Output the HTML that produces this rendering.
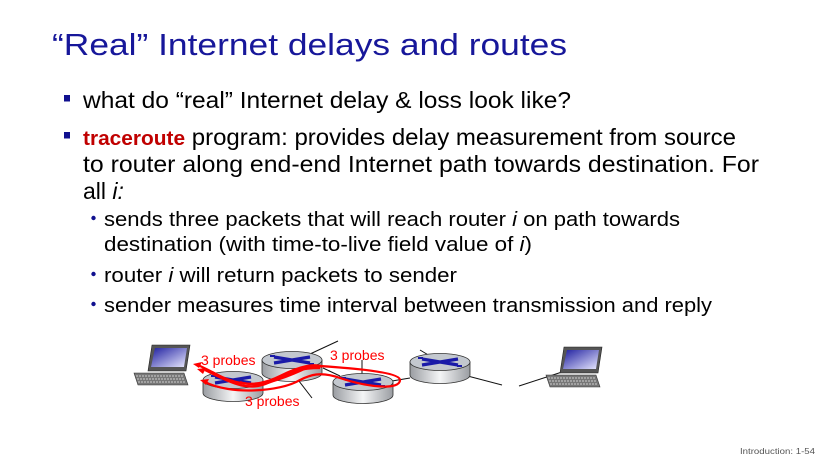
<!DOCTYPE html>
<html><head><meta charset="utf-8"><style>
html,body{margin:0;padding:0;background:#fff;}
svg{display:block;}
</style></head><body>
<svg width="830" height="465" viewBox="0 0 830 465" xmlns="http://www.w3.org/2000/svg" font-family="'Liberation Sans', sans-serif">
<defs>
<linearGradient id="scr" x1="0" y1="0" x2="1" y2="1"><stop offset="0" stop-color="#2020a0"/><stop offset="1" stop-color="#e8e8ff"/></linearGradient>
<linearGradient id="body" x1="0" y1="0" x2="1" y2="0"><stop offset="0" stop-color="#9a9da2"/><stop offset="0.5" stop-color="#f4f5f6"/><stop offset="1" stop-color="#9a9da2"/></linearGradient>
<g id="rt">
<path d="M-30,0 L-30,13 A30,8.5 0 0 0 30,13 L30,0 Z" fill="url(#body)" stroke="#333" stroke-width="0.8"/>
<ellipse cx="0" cy="0" rx="30" ry="8.5" fill="#c3c8cf" stroke="#333" stroke-width="0.8"/>
<path d="M-18,-3 L18,3 M-18,3 L18,-3" stroke="#1a1aa8" stroke-width="3.2"/>
<path d="M-22,-4 l5,0 M22,4 l-5,0" stroke="#1a1aa8" stroke-width="2"/>
</g>
<g id="lp">
<path d="M4,0 L42,0 L38,26 L0,26 Z" fill="#555" stroke="#222" stroke-width="0.6"/>
<path d="M7,3 L39,3 L36,22 L3,22 Z" fill="url(#scr)"/>
<path d="M-14,28 L36,28 L40,40 L-10,40 Z" fill="#777" stroke="#333" stroke-width="0.6"/>
<path d="M-12,31 L36,31 M-11,34 L37,34 M-10,37 L38,37" stroke="#ccc" stroke-width="1" stroke-dasharray="2 1"/>
</g>
</defs>
<text x="52" y="55" font-size="31" fill="#17179a" textLength="515" lengthAdjust="spacingAndGlyphs">“Real” Internet delays and routes</text>
<rect x="64" y="95" width="6" height="6.5" fill="#10108f"/>
<rect x="64" y="132" width="6" height="6.5" fill="#10108f"/>
<text x="83" y="108" font-size="23" fill="#000" textLength="488" lengthAdjust="spacingAndGlyphs">what do “real” Internet delay &amp; loss look like?</text>
<text x="83" y="145" font-size="23" fill="#000" textLength="653" lengthAdjust="spacingAndGlyphs"><tspan fill="#c00000" font-weight="bold" font-size="20">traceroute</tspan> program: provides delay measurement from source</text>
<text x="83" y="172" font-size="23" fill="#000" textLength="676" lengthAdjust="spacingAndGlyphs">to router along end-end Internet path towards destination.  For</text>
<text x="83" y="199" font-size="23" fill="#000">all <tspan font-style="italic">i:</tspan></text>
<g fill="#10108f"><circle cx="93.5" cy="218" r="2.2"/><circle cx="93.5" cy="274" r="2.2"/><circle cx="93.5" cy="304" r="2.2"/></g>
<g font-size="20" fill="#000">
<text x="104" y="226" textLength="576" lengthAdjust="spacingAndGlyphs">sends three packets that will reach router <tspan font-style="italic">i</tspan> on path towards</text>
<text x="104" y="251" textLength="428" lengthAdjust="spacingAndGlyphs">destination (with time-to-live field value of <tspan font-style="italic">i</tspan>)</text>
<text x="104" y="282" textLength="353" lengthAdjust="spacingAndGlyphs">router <tspan font-style="italic">i</tspan> will return packets to sender</text>
<text x="104" y="312" textLength="608" lengthAdjust="spacingAndGlyphs">sender measures time interval between transmission and reply</text>
</g>
<text x="740" y="454" font-size="8.5" fill="#555" textLength="75" lengthAdjust="spacingAndGlyphs">Introduction: 1-54</text>
<!-- links -->
<g stroke="#111" stroke-width="1">
<line x1="310" y1="354" x2="338" y2="341"/>
<line x1="292" y1="372" x2="312" y2="398"/>
<line x1="362" y1="374" x2="362" y2="360"/>
<line x1="323" y1="368" x2="340" y2="376"/>
<line x1="392" y1="381" x2="410" y2="378"/>
<line x1="420" y1="350" x2="430" y2="356"/>
<line x1="460" y1="374" x2="502" y2="385"/>
<line x1="519" y1="386" x2="562" y2="372"/>
<line x1="338" y1="400" x2="348" y2="398"/>
</g>
<use href="#lp" x="148" y="345"/>
<use href="#lp" x="560" y="347"/>
<use href="#rt" x="292" y="360"/>
<use href="#rt" x="440" y="362"/>
<use href="#rt" x="233" y="380"/>
<use href="#rt" x="363" y="382"/>
<!-- red probes -->
<g fill="none" stroke="#f00" stroke-width="2.2">
<path d="M198,365 C230,380 240,390 260,385 C290,378 300,365 320,366 C350,368 400,372 400,380 C400,390 370,388 340,378 C320,371 310,375 300,380 C280,392 230,395 205,382"/>
<path d="M205,370 C235,385 250,392 270,382 C290,370 305,368 320,368"/>
<path d="M212,372 C240,388 260,386 280,376 C300,366 315,363 322,367"/>
<path d="M322,367 C320,364 310,366 300,371 C280,380 255,388 240,382"/>
</g>
<g fill="#f00">
<path d="M193,364 l9,-2 l-3,6 Z"/>
<path d="M197,369 l9,-1 l-3,6 Z"/>
<path d="M200,380 l9,-1 l-3,6 Z"/>
</g>
<g font-size="14" fill="#f00">
<text x="201" y="365">3 probes</text>
<text x="330" y="360">3 probes</text>
<text x="245" y="406">3 probes</text>
</g>
</svg>
</body></html>
